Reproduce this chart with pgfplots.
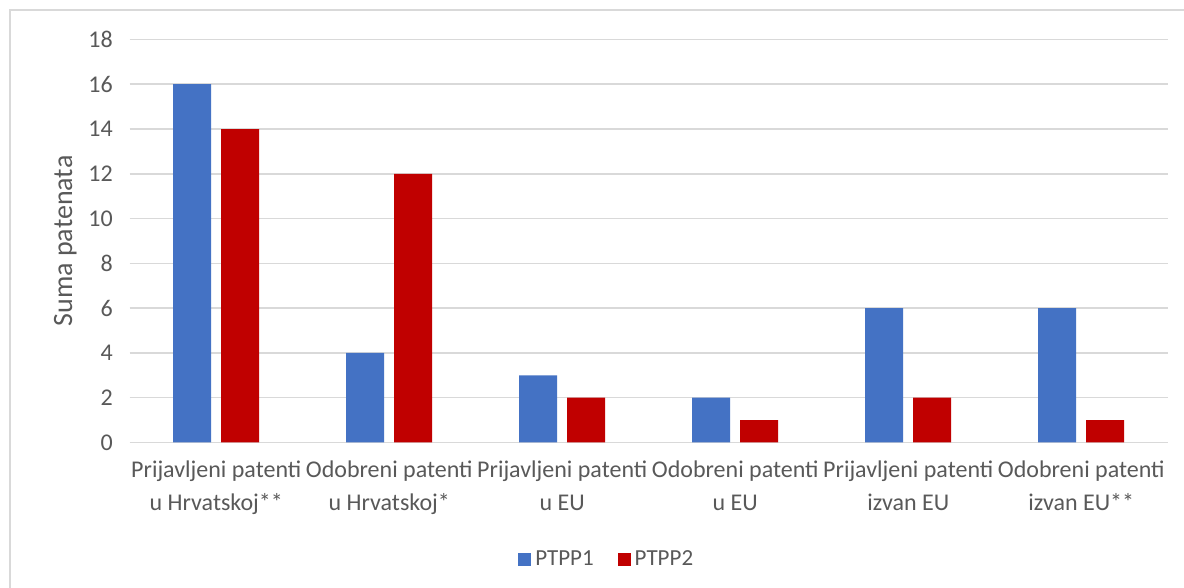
\documentclass[border=0pt]{standalone}
\usepackage{fontspec}
\setmainfont{Carlito}
\usepackage{pgfplots}
\pgfplotsset{compat=1.18}
\definecolor{cblue}{HTML}{4472C4}
\definecolor{cred}{HTML}{C00000}
\definecolor{cgrid}{HTML}{D9D9D9}
\definecolor{ctext}{HTML}{595959}
\begin{document}
\begin{tikzpicture}[x=1pt,y=1pt]
\useasboundingbox[fill=white] (0,0) rectangle (592,294);
\draw[cgrid, line width=0.8pt] (5,0) -- (5,289) -- (592,289);
\begin{axis}[
  at={(75,65)}, anchor=south west,
  scale only axis, width=519pt, height=201.5pt,
  xmin=-0.5, xmax=5.5, ymin=0, ymax=18,
  ytick={0,2,...,18},
  xtick=data,
  xticklabels={{Prijavljeni patenti\\[2pt]u Hrvatskoj**},{Odobreni patenti\\[2pt]u Hrvatskoj*},{Prijavljeni patenti\\[2pt]u EU},{Odobreni patenti\\[2pt]u EU},{Prijavljeni patenti\\[2pt]izvan EU},{Odobreni patenti\\[2pt]izvan EU**}},
  xticklabel style={align=center, font=\fontsize{12}{14.5}\selectfont, text=ctext, yshift=-5.5pt},
  yticklabel style={font=\fontsize{12}{14}\selectfont, text=ctext, xshift=-5pt},
  /pgf/number format/assume math mode=true,
  axis line style={draw=none},
  major tick length=0pt,
  ymajorgrids, major grid style={cgrid, line width=0.8pt},
  ylabel={Suma patenata},
  ylabel style={font=\fontsize{14}{16}\selectfont, text=ctext, yshift=-1pt},
  ybar, bar width=19pt,
  enlargelimits=false,
  legend style={at={(0.4605,-0.29)}, anchor=center, draw=none, legend columns=2,
    font=\fontsize{11.5}{13}\selectfont, text=ctext,
    /tikz/every even column/.append style={column sep=10pt}},
  legend image code/.code={\fill[#1] (0pt,-3.25pt) rectangle (6.5pt,3.25pt);},
]
\addplot[fill=cblue, draw=none, bar shift=-12pt] coordinates {(0,16) (1,4) (2,3) (3,2) (4,6) (5,6)};
\addplot[fill=cred, draw=none, bar shift=12pt] coordinates {(0,14) (1,12) (2,2) (3,1) (4,2) (5,1)};
\legend{PTPP1,PTPP2}
\end{axis}
\end{tikzpicture}
\end{document}
